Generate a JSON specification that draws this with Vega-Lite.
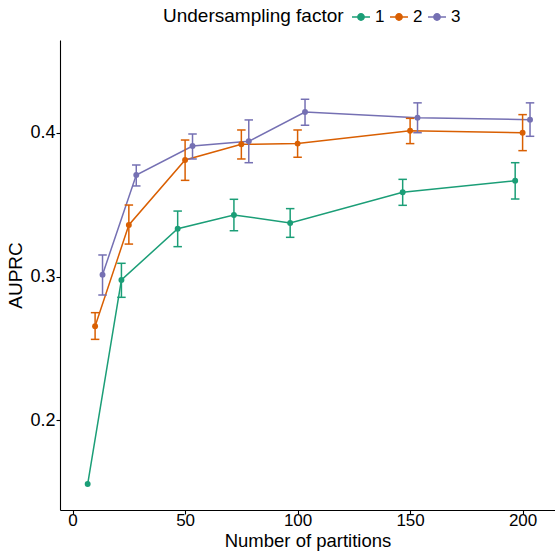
{
  "$schema": "https://vega.github.io/schema/vega-lite/v6.json",
  "width": 495,
  "height": 470,
  "autosize": {"type": "none"},
  "padding": {"left": 60, "top": 40, "right": 0, "bottom": 45},
  "background": "white",
  "config": {
    "font": "Liberation Sans",
    "view": {"stroke": null},
    "axis": {
      "grid": false,
      "domainColor": "black",
      "domainWidth": 1.1,
      "tickColor": "black",
      "tickWidth": 1.1,
      "tickSize": 4,
      "labelColor": "black",
      "labelFontSize": 18,
      "titleFontSize": 19,
      "titleFontWeight": "normal",
      "titleColor": "black",
      "labelPadding": 1
    },
    "legend": {
      "titleFontSize": 19,
      "titleFontWeight": "normal",
      "titleColor": "black",
      "labelFontSize": 17,
      "labelColor": "black",
      "titleLimit": 400
    }
  },
  "data": {
    "values": [
      {"partitions": 10, "factor": 1, "auprc": 0.1554, "lo": null, "hi": null},
      {"partitions": 25, "factor": 1, "auprc": 0.2976, "lo": 0.2855, "hi": 0.3092},
      {"partitions": 50, "factor": 1, "auprc": 0.3333, "lo": 0.3208, "hi": 0.3456},
      {"partitions": 75, "factor": 1, "auprc": 0.3429, "lo": 0.3319, "hi": 0.3538},
      {"partitions": 100, "factor": 1, "auprc": 0.3373, "lo": 0.3273, "hi": 0.3473},
      {"partitions": 150, "factor": 1, "auprc": 0.3587, "lo": 0.3496, "hi": 0.3677},
      {"partitions": 200, "factor": 1, "auprc": 0.3668, "lo": 0.354, "hi": 0.3793},
      {"partitions": 10, "factor": 2, "auprc": 0.2653, "lo": 0.2562, "hi": 0.2748},
      {"partitions": 25, "factor": 2, "auprc": 0.3359, "lo": 0.3226, "hi": 0.3498},
      {"partitions": 50, "factor": 2, "auprc": 0.3812, "lo": 0.367, "hi": 0.3951},
      {"partitions": 75, "factor": 2, "auprc": 0.3921, "lo": 0.3819, "hi": 0.4021},
      {"partitions": 100, "factor": 2, "auprc": 0.3926, "lo": 0.3831, "hi": 0.4021},
      {"partitions": 150, "factor": 2, "auprc": 0.4016, "lo": 0.3926, "hi": 0.4102},
      {"partitions": 200, "factor": 2, "auprc": 0.4002, "lo": 0.3877, "hi": 0.4128},
      {"partitions": 10, "factor": 3, "auprc": 0.3013, "lo": 0.2871, "hi": 0.315},
      {"partitions": 25, "factor": 3, "auprc": 0.3707, "lo": 0.3631, "hi": 0.3777},
      {"partitions": 50, "factor": 3, "auprc": 0.3909, "lo": 0.3819, "hi": 0.3993},
      {"partitions": 75, "factor": 3, "auprc": 0.3942, "lo": 0.3793, "hi": 0.4091},
      {"partitions": 100, "factor": 3, "auprc": 0.4146, "lo": 0.4054, "hi": 0.4235},
      {"partitions": 150, "factor": 3, "auprc": 0.4107, "lo": 0.4002, "hi": 0.421},
      {"partitions": 200, "factor": 3, "auprc": 0.4093, "lo": 0.3977, "hi": 0.421}
    ]
  },
  "transform": [
    {"calculate": "datum.partitions + (datum.factor - 2) * 3.3", "as": "dodged"}
  ],
  "encoding": {
    "x": {
      "field": "dodged",
      "type": "quantitative",
      "scale": {"domain": [-5.6, 214.4], "nice": false, "zero": false},
      "axis": {"values": [0, 50, 100, 150, 200], "title": "Number of partitions", "titlePadding": 3, "labelPadding": -2, "labelFontSize": 17, "titleFontSize": 18.5}
    },
    "color": {
      "field": "factor",
      "type": "nominal",
      "scale": {"domain": [1, 2, 3], "range": ["#1B9E77", "#D95F02", "#7570B3"]},
      "legend": {
        "title": "Undersampling factor",
        "orient": "none",
        "legendX": 103,
        "legendY": -33,
        "direction": "horizontal",
        "titleOrient": "left",
        "titlePadding": 7,
        "symbolType": "M-1,0L1,0M-0.35,0A0.35,0.35 0 1,1 0.35,0A0.35,0.35 0 1,1 -0.35,0Z",
        "symbolSize": 324,
        "symbolStrokeWidth": 1.5,
        "symbolOpacity": 1,
        "columnPadding": 2,
        "labelOffset": 4
      }
    }
  },
  "layer": [
    {
      "mark": {"type": "line", "strokeWidth": 1.5},
      "encoding": {
        "y": {
          "field": "auprc",
          "type": "quantitative",
          "scale": {"domain": [0.1373, 0.4648], "nice": false, "zero": false},
          "axis": {"values": [0.2, 0.3, 0.4], "format": ".1f", "title": "AUPRC", "titlePadding": 4}
        }
      }
    },
    {
      "transform": [{"filter": "datum.lo != null"}],
      "mark": {"type": "rule", "strokeWidth": 1.5, "opacity": 1},
      "encoding": {
        "y": {"field": "lo", "type": "quantitative"},
        "y2": {"field": "hi"}
      }
    },
    {
      "transform": [{"filter": "datum.lo != null"}],
      "mark": {"type": "tick", "orient": "horizontal", "thickness": 1.5, "size": 8.5, "opacity": 1},
      "encoding": {"y": {"field": "lo", "type": "quantitative"}}
    },
    {
      "transform": [{"filter": "datum.lo != null"}],
      "mark": {"type": "tick", "orient": "horizontal", "thickness": 1.5, "size": 8.5, "opacity": 1},
      "encoding": {"y": {"field": "hi", "type": "quantitative"}}
    },
    {
      "mark": {"type": "point", "filled": true, "opacity": 1, "size": 35},
      "encoding": {"y": {"field": "auprc", "type": "quantitative"}}
    }
  ]
}
